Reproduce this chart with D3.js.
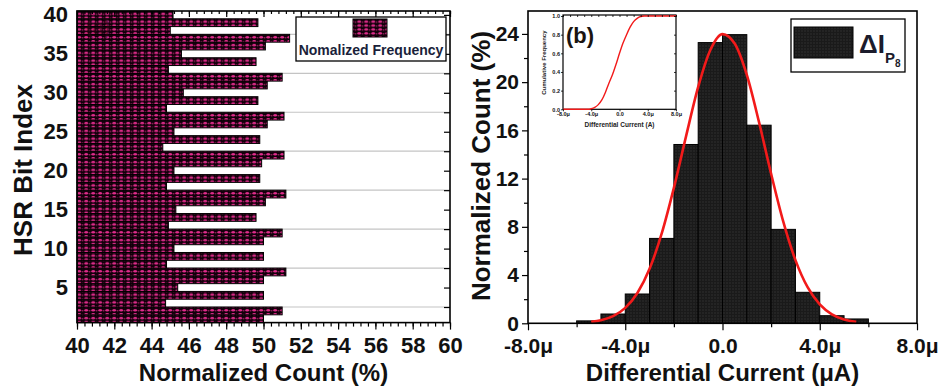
<!DOCTYPE html>
<html>
<head>
<meta charset="utf-8">
<script src="https://cdn.jsdelivr.net/npm/d3@7"></script>
<style>
  body { margin: 0; background: #fff; }
  svg { display: block; }
  text { font-family: "Liberation Sans", Arial, sans-serif; font-weight: bold; fill: #111; }
</style>
</head>
<body>
<script>
// ---- panel (a): HSR bit index vs normalized count
const bitIndex = [1, 2, 3, 4, 5, 6, 7, 8, 9, 10, 11, 12, 13, 14, 15, 16, 17, 18, 19, 20,
  21, 22, 23, 24, 25, 26, 27, 28, 29, 30, 31, 32, 33, 34, 35, 36, 37, 38, 39, 40]
const bitCount = [50.0, 51.0, 44.75, 50.0, 45.4, 50.0, 51.2, 44.8, 50.0, 45.2,
  50.0, 51.0, 44.9, 49.6, 45.3, 50.1, 51.2, 44.8, 49.8, 45.2,
  49.9, 51.1, 44.6, 49.8, 45.2, 50.2, 51.1, 44.8, 49.7, 45.7,
  50.2, 51.0, 44.9, 49.6, 45.6, 50.1, 51.4, 45.0, 49.7, 45.15]
const countTicks = [40, 42, 44, 46, 48, 50, 52, 54, 56, 58, 60]
const indexTicks = [5, 10, 15, 20, 25, 30, 35, 40]
const indexGrid = [2.5, 7.5, 12.5, 17.5, 22.5, 27.5, 32.5, 37.5]

// ---- panel (b): histogram of differential current (μA)
const binStart = [-6, -5, -4, -3, -2, -1, 0, 1, 2, 3, 4, 5]
const binCount = [0.2, 0.77, 2.43, 7.04, 14.83, 23.28, 23.94, 16.43, 7.79, 2.57, 0.63, 0.36]
const fitX = [-5.4, -5, -4.5, -4, -3.5, -3, -2.5, -2, -1.5, -1, -0.5, 0, 0.5, 1, 1.5, 2, 2.5, 3, 3.5, 4, 4.5, 5, 5.5]
const fitY = [0.12, 0.25, 0.59, 1.28, 2.51, 4.52, 7.45, 11.23, 15.5, 19.6, 22.66, 23.98, 23.2, 20.6, 16.7, 12.4, 8.43, 5.24, 2.99, 1.56, 0.74, 0.32, 0.13]
const currentTicks = [-8, -4, 0, 4, 8]
const currentMinor = [-6, -2, 2, 6]
const normTicks = [0, 4, 8, 12, 16, 20, 24]
const normMinor = [2, 6, 10, 14, 18, 22]

// ---- inset: cumulative frequency
const cdfX = [-8, -4.5, -4, -3.5, -3, -2.5, -2, -1.5, -1, -0.5, 0, 0.5, 1, 1.5, 2, 2.5, 3, 3.5, 8]
const cdfY = [0, 0, 0.006, 0.02, 0.05, 0.1, 0.18, 0.28, 0.37, 0.48, 0.6, 0.71, 0.8, 0.88, 0.94, 0.975, 0.995, 1, 1]
const cdfTicks = [0, 0.2, 0.4, 0.6, 0.8, 1.0]

const W = 940
const H = 392
const PINK = '#df2c8b'
const RED = '#f21a1a'

const svg = d3.select('body').append('svg').attr('width', W).attr('height', H)
const defs = svg.append('defs')

// pink/black dotted fill of the left bars
const pinkPat = defs.append('pattern')
  .attr('id', 'pinkDots').attr('patternUnits', 'userSpaceOnUse')
  .attr('width', 7).attr('height', 3.9)
pinkPat.append('rect').attr('width', 7).attr('height', 3.9).attr('fill', '#12000a')
pinkPat.append('ellipse').attr('cx', 2.2).attr('cy', 2.1).attr('rx', 1.9).attr('ry', 1.2).attr('fill', PINK)
pinkPat.append('ellipse').attr('cx', 5.6).attr('cy', 2.6).attr('rx', 1.0).attr('ry', 0.7).attr('fill', PINK).attr('opacity', 0.65)

// dark fill of the histogram
const darkPat = defs.append('pattern')
  .attr('id', 'darkDots').attr('patternUnits', 'userSpaceOnUse')
  .attr('width', 3).attr('height', 3)
darkPat.append('rect').attr('width', 3).attr('height', 3).attr('fill', '#1a1a1a')
darkPat.append('circle').attr('cx', 1).attr('cy', 1).attr('r', 0.7).attr('fill', '#353535')

const styleAxis = (g, width = 1.2) => {
  g.select('.domain').remove()
  g.selectAll('line').attr('stroke', '#000').attr('stroke-width', width)
}

// ================= panel (a) =================
const xA = d3.scaleLinear().domain([40, 60]).range([77, 450])
const yA = d3.scaleLinear().domain([0.5, 40.5]).range([322.6, 11])

svg.append('g').selectAll('line')
  .data(indexGrid).enter().append('line')
  .attr('x1', xA(40)).attr('x2', xA(60))
  .attr('y1', d => yA(d)).attr('y2', d => yA(d))
  .attr('stroke', '#c4c4c4').attr('stroke-width', 1.2)

svg.append('g').selectAll('rect')
  .data(bitIndex).enter().append('rect')
  .attr('x', xA(40))
  .attr('y', d => yA(d + 0.5))
  .attr('width', (d, i) => xA(bitCount[i]) - xA(40))
  .attr('height', d => yA(d - 0.5) - yA(d + 0.5))
  .attr('fill', 'url(#pinkDots)')
  .attr('stroke', '#000').attr('stroke-width', 1)

svg.append('text').attr('x', 86).attr('y', 34)
  .style('font-size', '20px').style('fill', '#2a0614').style('opacity', 0.55)
  .text('(a)')

// bottom axis: major + minor, outward
svg.append('g').attr('transform', `translate(0,${yA(0.5)})`)
  .call(d3.axisBottom(xA).tickValues(d3.range(40, 60.01, 0.4)).tickSize(4).tickFormat(''))
  .call(styleAxis)
svg.append('g').attr('transform', `translate(0,${yA(0.5)})`)
  .call(d3.axisBottom(xA).tickValues(countTicks).tickSize(7).tickPadding(8).tickFormat(d3.format('d')))
  .call(styleAxis)
  .call(g => g.selectAll('text').style('font-size', '22px').attr('fill', '#111'))

// top axis: inward
svg.append('g').attr('transform', `translate(0,${yA(40.5)})`)
  .call(d3.axisTop(xA).tickValues(d3.range(40, 60.01, 0.4)).tickSize(-3).tickFormat(''))
  .call(styleAxis)
svg.append('g').attr('transform', `translate(0,${yA(40.5)})`)
  .call(d3.axisTop(xA).tickValues(countTicks).tickSize(-6).tickFormat(''))
  .call(styleAxis)

// left axis labels
svg.append('g').attr('transform', `translate(${xA(40)},0)`)
  .call(d3.axisLeft(yA).tickValues(indexTicks).tickSize(0).tickPadding(9).tickFormat(d3.format('d')))
  .call(styleAxis)
  .call(g => g.selectAll('text').style('font-size', '22px').attr('fill', '#111'))

// right axis ticks: inward
svg.append('g').attr('transform', `translate(${xA(60)},0)`)
  .call(d3.axisRight(yA).tickValues(indexTicks.concat(indexGrid)).tickSize(-6).tickFormat(''))
  .call(styleAxis)

svg.append('rect')
  .attr('x', xA(40)).attr('y', yA(40.5))
  .attr('width', xA(60) - xA(40)).attr('height', yA(0.5) - yA(40.5))
  .attr('fill', 'none').attr('stroke', '#000').attr('stroke-width', 1.6)

svg.append('text')
  .attr('x', (xA(40) + xA(60)) / 2).attr('y', 381)
  .attr('text-anchor', 'middle').style('font-size', '24px')
  .text('Normalized Count (%)')

svg.append('text')
  .attr('transform', 'translate(32,170) rotate(-90)')
  .attr('text-anchor', 'middle').style('font-size', '26px')
  .text('HSR Bit Index')

// legend (a)
const legA = svg.append('g')
legA.append('rect').attr('x', 296).attr('y', 17).attr('width', 150).attr('height', 44)
  .attr('fill', '#fff').attr('stroke', '#000').attr('stroke-width', 1.3)
legA.append('rect').attr('x', 353).attr('y', 19).attr('width', 34).attr('height', 18)
  .attr('fill', 'url(#pinkDots)').attr('stroke', '#000').attr('stroke-width', 1)
legA.append('text').attr('x', 371).attr('y', 55).attr('text-anchor', 'middle')
  .style('font-size', '14px').style('fill', '#1a1f3a')
  .text('Nomalized Frequency')

// ================= panel (b) =================
const xB = d3.scaleLinear().domain([-8, 8]).range([528, 917])
const yB = d3.scaleLinear().domain([0, 25.9]).range([323.3, 11])

svg.append('g').selectAll('rect')
  .data(binStart).enter().append('rect')
  .attr('x', d => xB(d))
  .attr('y', (d, i) => yB(binCount[i]))
  .attr('width', d => xB(d + 1) - xB(d))
  .attr('height', (d, i) => yB(0) - yB(binCount[i]))
  .attr('fill', 'url(#darkDots)')
  .attr('stroke', '#000').attr('stroke-width', 1)

const fitLine = d3.line()
  .x((d, i) => xB(fitX[i]))
  .y(d => yB(d))
  .curve(d3.curveMonotoneX)
svg.append('path').datum(fitY)
  .attr('d', fitLine)
  .attr('fill', 'none').attr('stroke', RED).attr('stroke-width', 2.6)

const curFmt = d => d === 0 ? '0.0' : `${d.toFixed(1)}μ`

svg.append('g').attr('transform', `translate(0,${yB(0)})`)
  .call(d3.axisBottom(xB).tickValues(currentMinor).tickSize(4).tickFormat(''))
  .call(styleAxis)
svg.append('g').attr('transform', `translate(0,${yB(0)})`)
  .call(d3.axisBottom(xB).tickValues(currentTicks).tickSize(7).tickPadding(8).tickFormat(curFmt))
  .call(styleAxis)
  .call(g => g.selectAll('text').style('font-size', '21px').attr('fill', '#111'))

svg.append('g').attr('transform', `translate(${xB(-8)},0)`)
  .call(d3.axisLeft(yB).tickValues(normMinor).tickSize(4).tickFormat(''))
  .call(styleAxis)
svg.append('g').attr('transform', `translate(${xB(-8)},0)`)
  .call(d3.axisLeft(yB).tickValues(normTicks).tickSize(6).tickPadding(3).tickFormat(d3.format('d')))
  .call(styleAxis)
  .call(g => g.selectAll('text').style('font-size', '21px').attr('fill', '#111'))

svg.append('rect')
  .attr('x', xB(-8)).attr('y', yB(25.9))
  .attr('width', xB(8) - xB(-8)).attr('height', yB(0) - yB(25.9))
  .attr('fill', 'none').attr('stroke', '#000').attr('stroke-width', 1.6)

svg.append('text')
  .attr('x', xB(0)).attr('y', 381)
  .attr('text-anchor', 'middle').style('font-size', '24px')
  .text('Differential Current (μA)')

svg.append('text')
  .attr('transform', 'translate(490,166) rotate(-90)')
  .attr('text-anchor', 'middle').style('font-size', '26px')
  .text('Normalized Count (%)')

// legend (b)
const legB = svg.append('g')
legB.append('rect').attr('x', 791).attr('y', 19).attr('width', 114).attr('height', 53)
  .attr('fill', '#fff').attr('stroke', '#000').attr('stroke-width', 1.3)
legB.append('rect').attr('x', 794).attr('y', 27).attr('width', 59).attr('height', 31)
  .attr('fill', 'url(#darkDots)').attr('stroke', '#000').attr('stroke-width', 1)
const legText = legB.append('text').attr('x', 859).attr('y', 53).style('font-size', '26px').style('fill', '#1c1c2c')
legText.append('tspan').text('ΔI')
legText.append('tspan').attr('dy', 10).style('font-size', '15px').text('P')
legText.append('tspan').attr('dy', 4).style('font-size', '10px').text('8')

// ---- inset
const xI = d3.scaleLinear().domain([-8, 8]).range([563, 676])
const yI = d3.scaleLinear().domain([0, 1]).range([109.3, 16])

svg.append('rect')
  .attr('x', xI(-8)).attr('y', 15)
  .attr('width', xI(8) - xI(-8)).attr('height', yI(0) - 15)
  .attr('fill', '#fff').attr('stroke', '#000').attr('stroke-width', 1.2)

const cdfLine = d3.line()
  .x((d, i) => xI(cdfX[i]))
  .y(d => yI(d))
  .curve(d3.curveMonotoneX)
svg.append('path').datum(cdfY)
  .attr('d', cdfLine)
  .attr('fill', 'none').attr('stroke', RED).attr('stroke-width', 1.4)

svg.append('g').attr('transform', `translate(0,${yI(0)})`)
  .call(d3.axisBottom(xI).tickValues(currentTicks).tickSize(2).tickPadding(1).tickFormat(curFmt))
  .call(g => styleAxis(g, 0.8))
  .call(g => g.selectAll('text').style('font-size', '5.5px').attr('fill', '#222'))
svg.append('g').attr('transform', 'translate(0,15)')
  .call(d3.axisTop(xI).tickValues(d3.range(-8, 8.01, 1)).tickSize(-2).tickFormat(''))
  .call(g => styleAxis(g, 0.8))
svg.append('g').attr('transform', `translate(${xI(-8)},0)`)
  .call(d3.axisLeft(yI).tickValues(cdfTicks).tickSize(2).tickPadding(1).tickFormat(d3.format('.1f')))
  .call(g => styleAxis(g, 0.8))
  .call(g => g.selectAll('text').style('font-size', '5.5px').attr('fill', '#222'))
svg.append('g').attr('transform', `translate(${xI(8)},0)`)
  .call(d3.axisRight(yI).tickValues(cdfTicks).tickSize(-2).tickFormat(''))
  .call(g => styleAxis(g, 0.8))

svg.append('text')
  .attr('x', (xI(-8) + xI(8)) / 2).attr('y', 127)
  .attr('text-anchor', 'middle').style('font-size', '6.5px').style('fill', '#222')
  .text('Differential Current (A)')
svg.append('text')
  .attr('transform', `translate(546,${(yI(0) + yI(1)) / 2}) rotate(-90)`)
  .attr('text-anchor', 'middle').style('font-size', '6px').style('fill', '#222')
  .text('Cumulative Frequency')

svg.append('text').attr('x', 566).attr('y', 43)
  .style('font-size', '22px').style('fill', '#1a1410')
  .text('(b)')
</script>
</body>
</html>
